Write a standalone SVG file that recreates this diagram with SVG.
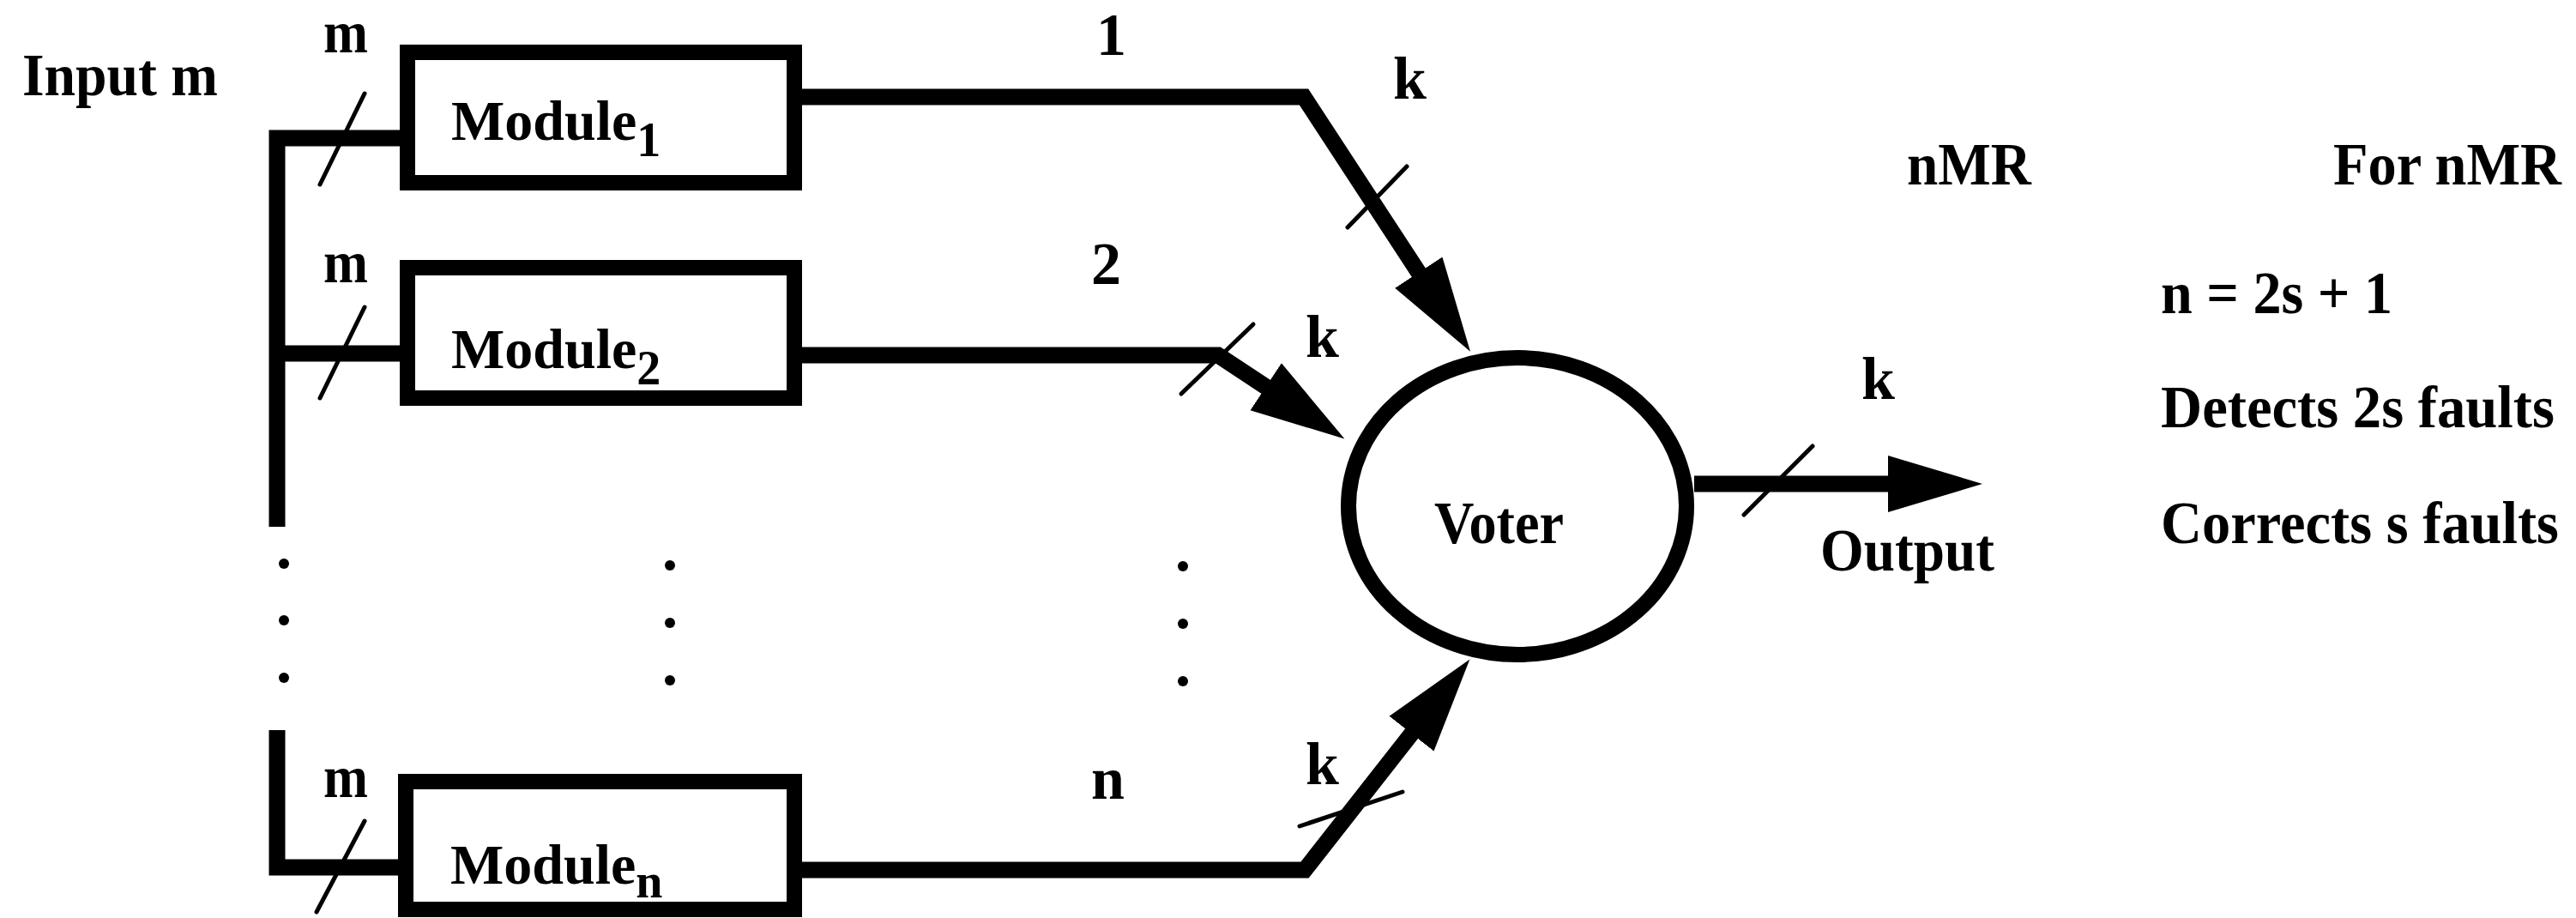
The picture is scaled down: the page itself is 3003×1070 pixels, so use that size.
<svg xmlns="http://www.w3.org/2000/svg" width="3003" height="1070" viewBox="0 0 3003 1070">
  <style>
    .t { font-family: "Liberation Serif", "Times New Roman", serif; font-weight: bold; font-size: 70px; fill: #000; }
    .mod { font-size: 66px; }
    .sub { font-size: 56px; }
    .box { fill: #fff; stroke: #000; stroke-width: 18; }
    .wire { fill: none; stroke: #000; stroke-width: 19; stroke-linejoin: miter; }
    .slash { stroke: #000; stroke-width: 5; stroke-linecap: round; }
    .dot { fill: #000; }
  </style>
  <defs>
    <marker id="head" markerUnits="userSpaceOnUse" markerWidth="120" markerHeight="70" refX="4" refY="33" orient="auto" viewBox="0 0 120 66">
      <path d="M0,0 L110,33 L0,66 Z" fill="#000"/>
    </marker>
  </defs>
  <rect width="3003" height="1070" fill="#fff"/>

  <!-- input bus and module feeds -->
  <g id="connectors">
    <path class="wire" d="M466,161 H323 V614"/>
    <path class="wire" d="M323,412 H466"/>
    <path class="wire" d="M323,851 V1011 H466"/>

    <!-- module outputs into the voter -->
    <path class="wire" d="M935,113 H1520 L1656,321" marker-end="url(#head)"/>
    <path class="wire" d="M935,414 H1420 L1479,453" marker-end="url(#head)"/>
    <path class="wire" d="M935,1014 H1521 L1648,852" marker-end="url(#head)"/>

    <!-- voter output -->
    <path class="wire" d="M1975,564 H2205" marker-end="url(#head)"/>

    <!-- bus-width slashes -->
    <line class="slash" x1="425" y1="109" x2="373" y2="215"/>
    <line class="slash" x1="425" y1="358" x2="373" y2="464"/>
    <line class="slash" x1="425" y1="957" x2="369" y2="1063"/>
    <line class="slash" x1="1640" y1="194" x2="1571" y2="265"/>
    <line class="slash" x1="1461" y1="378" x2="1377" y2="459"/>
    <line class="slash" x1="1635" y1="923" x2="1515" y2="963"/>
    <line class="slash" x1="2113" y1="520" x2="2033" y2="600"/>

    <!-- ellipsis dots -->
    <circle class="dot" cx="331" cy="657" r="6"/>
    <circle class="dot" cx="331" cy="723" r="6"/>
    <circle class="dot" cx="331" cy="790" r="6"/>
    <circle class="dot" cx="781" cy="659" r="6"/>
    <circle class="dot" cx="781" cy="726" r="6"/>
    <circle class="dot" cx="781" cy="793" r="6"/>
    <circle class="dot" cx="1379" cy="660" r="6"/>
    <circle class="dot" cx="1379" cy="727" r="6"/>
    <circle class="dot" cx="1379" cy="794" r="6"/>
  </g>

  <!-- wire labels -->
  <g id="labels">
    <text class="t" x="26" y="111" textLength="228" lengthAdjust="spacingAndGlyphs">Input m</text>
    <text class="t" x="377" y="61" textLength="52" lengthAdjust="spacingAndGlyphs">m</text>
    <text class="t" x="377" y="329" textLength="52" lengthAdjust="spacingAndGlyphs">m</text>
    <text class="t" x="377" y="929" textLength="52" lengthAdjust="spacingAndGlyphs">m</text>
    <text class="t" x="1278" y="64">1</text>
    <text class="t" x="1272" y="331">2</text>
    <text class="t" x="1272" y="931">n</text>
    <text class="t" x="1624" y="115">k</text>
    <text class="t" x="1522" y="416">k</text>
    <text class="t" x="1522" y="914">k</text>
    <text class="t" x="2170" y="465">k</text>
    <text class="t" x="2122" y="665" textLength="203" lengthAdjust="spacingAndGlyphs">Output</text>
  </g>

  <g id="module1">
    <rect class="box" x="475" y="61" width="451" height="152"/>
    <text class="t mod" x="526" y="163">Module<tspan class="sub" dy="19">1</tspan></text>
  </g>

  <g id="module2">
    <rect class="box" x="475" y="312" width="451" height="152"/>
    <text class="t mod" x="526" y="429">Module<tspan class="sub" dy="19">2</tspan></text>
  </g>

  <g id="modulen">
    <rect class="box" x="473" y="911" width="453" height="149"/>
    <text class="t mod" x="525" y="1030">Module<tspan class="sub" dy="16">n</tspan></text>
  </g>

  <g id="voter">
    <ellipse cx="1769" cy="590" rx="197" ry="173" fill="#fff" stroke="#000" stroke-width="18"/>
    <text class="t" x="1672" y="633" textLength="151" lengthAdjust="spacingAndGlyphs">Voter</text>
  </g>

  <!-- side notes -->
  <g id="notes">
    <text class="t" x="2223" y="215" textLength="145" lengthAdjust="spacingAndGlyphs">nMR</text>
    <text class="t" x="2720" y="215" textLength="266" lengthAdjust="spacingAndGlyphs">For nMR</text>
    <text class="t" x="2519" y="365" textLength="270" lengthAdjust="spacingAndGlyphs">n = 2s + 1</text>
    <text class="t" x="2519" y="498" textLength="459" lengthAdjust="spacingAndGlyphs">Detects 2s faults</text>
    <text class="t" x="2519" y="633" textLength="464" lengthAdjust="spacingAndGlyphs">Corrects s faults</text>
  </g>
</svg>
